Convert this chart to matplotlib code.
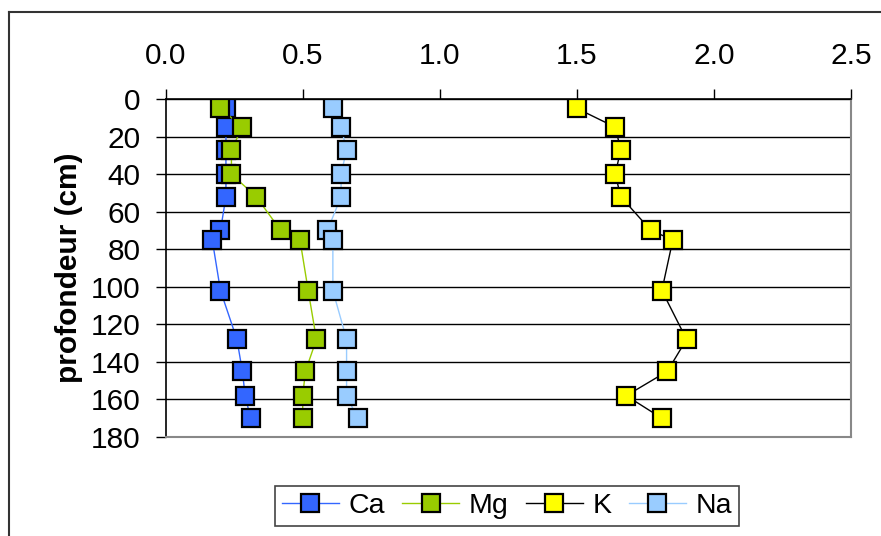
import numpy as np
import matplotlib.pyplot as plt
from matplotlib.lines import Line2D

plt.rcParams['font.family'] = ['Liberation Sans', 'DejaVu Sans']

# Depth of each sample (cm)
depth = [5, 15, 27, 40, 52, 70, 75, 102, 128, 145, 158, 170]

# Exchangeable cations per depth
ca = [0.22, 0.22, 0.22, 0.22, 0.22, 0.20, 0.17, 0.20, 0.26, 0.28, 0.29, 0.31]
mg = [0.20, 0.28, 0.24, 0.24, 0.33, 0.42, 0.49, 0.52, 0.55, 0.51, 0.50, 0.50]
k = [1.50, 1.64, 1.66, 1.64, 1.66, 1.77, 1.85, 1.81, 1.90, 1.83, 1.68, 1.81]
na = [0.61, 0.64, 0.66, 0.64, 0.64, 0.59, 0.61, 0.61, 0.66, 0.66, 0.66, 0.70]

series = [('Ca', ca, '#3366FF', '#3366FF'),
          ('Mg', mg, '#99CC00', '#99CC00'),
          ('K', k, '#FFFF00', '#000000'),
          ('Na', na, '#99CCFF', '#99CCFF')]

fig = plt.figure(figsize=(8.81, 5.36), dpi=100)
ax = fig.add_axes([0.188, 0.1847, 0.778, 0.6306])

for name, vals, face, line in series:
    ax.plot(vals, depth, color=line, lw=1, marker='s', markersize=12.5,
            markerfacecolor=face, markeredgecolor='black', markeredgewidth=1.6,
            label=name, zorder=3)

ax.set_xlim(0, 2.5)
ax.set_ylim(180, 0)
ax.set_xticks(np.arange(0, 2.51, 0.5))
ax.set_xticklabels(['%.1f' % v for v in np.arange(0, 2.51, 0.5)])
ax.set_yticks(range(0, 181, 20))
ax.xaxis.tick_top()
ax.tick_params(axis='x', length=7, width=1, pad=14, labelsize=21.5)
ax.tick_params(axis='y', length=7, width=1, pad=11, labelsize=21.5)
ax.yaxis.grid(True, color='black', lw=1)
ax.set_axisbelow(True)

for side in ('right', 'bottom'):
    ax.spines[side].set_color('#888888')
    ax.spines[side].set_linewidth(1.5)
for side in ('left', 'top'):
    ax.spines[side].set_color('black')
    ax.spines[side].set_linewidth(1.2)

ax.set_ylabel('profondeur (cm)', fontsize=21.5, fontweight='bold', labelpad=6)

leg = fig.legend(loc='center', bbox_to_anchor=(0.5755, 0.056), ncol=4,
                 fontsize=20.5, markerscale=1.0, handlelength=2.0,
                 columnspacing=0.6, handletextpad=0.35, borderpad=0.25,
                 borderaxespad=0, fancybox=False, framealpha=1)
leg.get_frame().set_edgecolor('#444444')
leg.get_frame().set_linewidth(1.2)

# outer frame of the chart area
x0, y0 = 9 / 881, 1 - 12 / 536
fig.add_artist(Line2D([x0, 1], [y0, y0], color='#333333', lw=1.5))
fig.add_artist(Line2D([x0, x0], [0, y0], color='#333333', lw=1.5))

fig.savefig('out.png', dpi=100)
